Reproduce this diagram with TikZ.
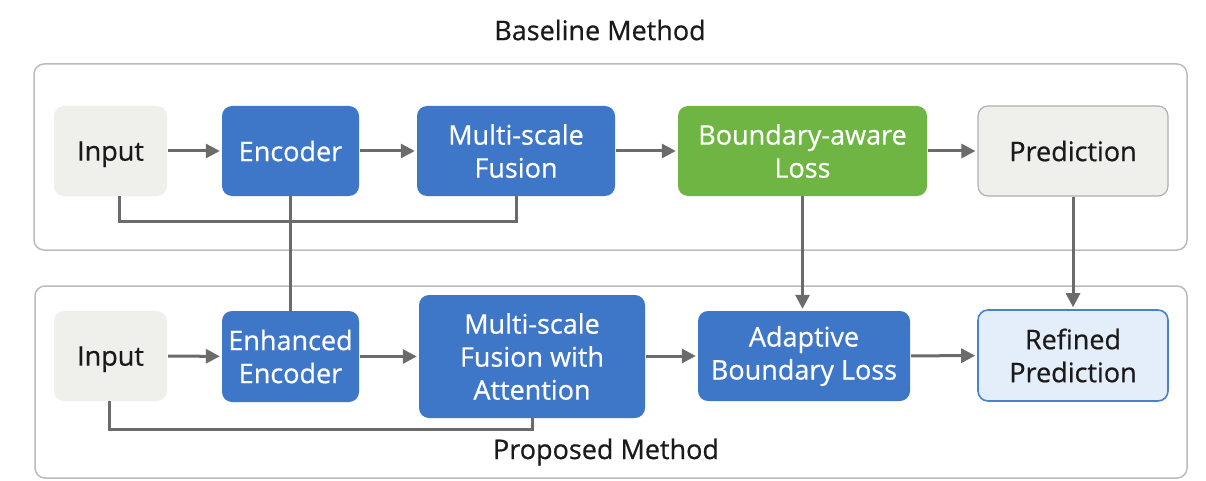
\documentclass[tikz,border=0pt]{standalone}
\usepackage{fontspec}
\setmainfont{Open Sans}
\newfontfamily\lblfont[FakeBold=0.6]{Open Sans}
\usetikzlibrary{arrows.meta}
\definecolor{bblue}{HTML}{3F77C8}
\definecolor{bgreen}{HTML}{6FB543}
\definecolor{lgray}{HTML}{EFEFEC}
\definecolor{lgrayb}{HTML}{B0B0B0}
\definecolor{lblue}{HTML}{E4EEFA}
\definecolor{lblueb}{HTML}{4A80CC}
\definecolor{arr}{HTML}{6B6B6B}
\definecolor{frame}{HTML}{BBBBBB}
\definecolor{txt}{HTML}{1A1A1A}
\begin{document}
\begin{tikzpicture}[x=1pt,y=-1pt,
  lbl/.style={font=\lblfont\fontsize{27}{33}\selectfont, align=center, inner sep=0pt, rounded corners=10pt},
  bluebox/.style={lbl, fill=bblue, text=white},
  greenbox/.style={lbl, fill=bgreen, text=white},
  graybox/.style={lbl, fill=lgray, text=txt, text depth=0pt},
  predbox/.style={lbl, fill=lgray, draw=lgrayb, line width=1.2pt, text=txt},
  refbox/.style={lbl, fill=lblue, draw=lblueb, line width=1.6pt, text=txt},
  flow/.style={draw=arr, line width=3pt, -{Triangle[length=14pt,width=14pt]}, shorten >=2pt, shorten <=1pt},
  link/.style={draw=arr, line width=3pt},
  framebox/.style={draw=frame, line width=1.5pt, rounded corners=10pt, fill=white!98!black!2},
  title/.style={font=\lblfont\fontsize{27}{33}\selectfont, text=txt, inner sep=0pt}]
\useasboundingbox[fill=white] (0,0) rectangle (1206,481);
\draw[framebox] (34,64) rectangle (1187,250);
\draw[framebox] (35,286) rectangle (1187,478);
\node[title] (t1) at (600,30) {Baseline Method};
\node[title] (t2) at (606,452) {Proposed Method};
% top row
\node[graybox, minimum width=113pt, minimum height=90pt] (in1) at (110.5,151) {Input};
\node[bluebox, minimum width=137pt, minimum height=90pt] (enc) at (290.5,151) {Encoder};
\node[bluebox, minimum width=198pt, minimum height=90pt] (msf) at (516,151) {Multi-scale\\Fusion};
\node[greenbox, minimum width=249pt, minimum height=90pt] (bal) at (802.5,151) {Boundary-aware\\Loss};
\node[predbox, minimum width=190pt, minimum height=90pt] (pred) at (1073,151) {Prediction};
% bottom row
\node[graybox, minimum width=113pt, minimum height=90pt] (in2) at (110.5,356) {Input};
\node[bluebox, minimum width=137pt, minimum height=91pt] (ee) at (290.5,356.5) {Enhanced\\Encoder};
\node[bluebox, minimum width=226pt, minimum height=123pt] (msfa) at (532,356.5) {Multi-scale\\Fusion with\\Attention};
\node[bluebox, minimum width=212pt, minimum height=90pt] (abl) at (804,356) {Adaptive\\Boundary Loss};
\node[refbox, minimum width=190pt, minimum height=91pt] (rp) at (1073,355.5) {Refined\\Prediction};
% arrows top
\draw[flow] (in1) -- (enc);
\draw[flow] (enc) -- (msf);
\draw[flow] (msf) -- (bal);
\draw[flow] (bal) -- (pred);
% arrows bottom
\draw[flow] (in2) -- (ee);
\draw[flow] (ee) -- (msfa);
\draw[flow] (msfa.east |- abl.west) -- (abl);
\draw[flow] (abl) -- (rp);
% skip lines
\draw[link] ([xshift=8.5pt]in1.south) -- ++(0,25) -| (msf.south);
\draw[link] ([xshift=-1.5pt]in2.south) -- ++(0,28) -| (msfa.south);
\draw[link] (enc.south) -- (ee.north);
% vertical arrows
\draw[flow, shorten <=0pt] (bal.south) -- (bal.south |- abl.north);
\draw[flow, shorten <=0pt] (pred.south) -- (rp.north);
\end{tikzpicture}
\end{document}
